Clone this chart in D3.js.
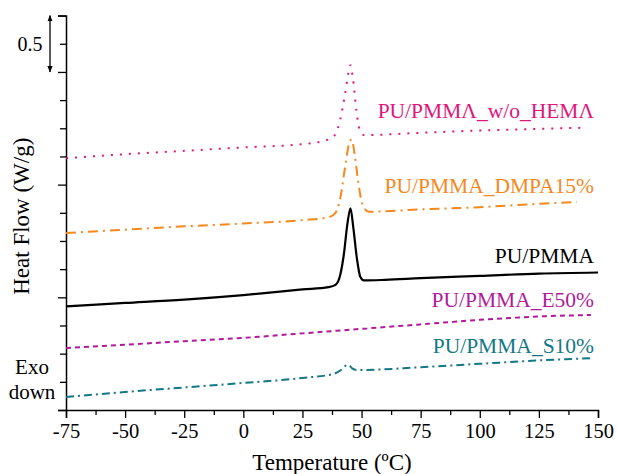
<!DOCTYPE html>
<html>
<head>
<meta charset="utf-8">
<script src="https://cdn.jsdelivr.net/npm/d3@7"></script>
<style>
  body { margin: 0; background: #fff; }
  text { font-family: "Liberation Serif", "Times New Roman", serif; }
</style>
</head>
<body>
<script>
const width = 617,
  height = 474;

// temperatures (ºC) and heat flow (W/g, shifted for display)
const tHema = [-75, -50, -25, 0, 25, 36, 39, 41, 43, 44.5, 45.3, 46.3, 47.8, 49.3, 51, 75, 100, 125, 145];
const vHema = [2.235, 2.27, 2.3, 2.33, 2.36, 2.4, 2.45, 2.58, 2.8, 3.0, 3.06, 2.95, 2.66, 2.48, 2.44, 2.46, 2.48, 2.495, 2.505];

const tDmpa = [-75, -50, -25, 0, 25, 36, 39, 41, 43, 44.8, 45.8, 47, 48.5, 50, 51.5, 53, 75, 100, 125, 141];
const vDmpa = [1.57, 1.6, 1.63, 1.655, 1.685, 1.71, 1.75, 1.88, 2.15, 2.37, 2.4, 2.28, 2.04, 1.85, 1.78, 1.76, 1.78, 1.8, 1.83, 1.846];

const tRef = [-75, -50, -25, 0, 25, 36, 39, 41, 42.5, 44, 45.3, 46.5, 48, 49.5, 51, 60, 75, 100, 125, 150];
const vRef = [0.92, 0.95, 0.98, 1.02, 1.07, 1.09, 1.11, 1.2, 1.38, 1.65, 1.79, 1.62, 1.35, 1.18, 1.15, 1.155, 1.17, 1.19, 1.21, 1.22];

const tE50 = [-75, -50, -25, 0, 25, 50, 75, 100, 125, 147];
const vE50 = [0.55, 0.58, 0.61, 0.64, 0.68, 0.72, 0.76, 0.8, 0.83, 0.843];

const tS10 = [-75, -50, -25, 0, 25, 38, 41, 43, 44.5, 46, 48, 50, 75, 100, 125, 148];
const vS10 = [0.115, 0.16, 0.2, 0.24, 0.284, 0.32, 0.35, 0.39, 0.4, 0.37, 0.355, 0.355, 0.38, 0.41, 0.44, 0.461];

const seriesNames = ['PU/PMMΛ_w/o_HEMΛ', 'PU/PMMA_DMPA15%', 'PU/PMMA', 'PU/PMMA_E50%', 'PU/PMMA_S10%'];
const xTicks = [-75, -50, -25, 0, 25, 50, 75, 100, 125, 150];

const series = [
  { name: seriesNames[0], t: tHema, v: vHema, color: '#e2157c', dash: '2,7', label: 2.65 },
  { name: seriesNames[1], t: tDmpa, v: vDmpa, color: '#f5891e', dash: '10,5,2,5', label: 1.99 },
  { name: seriesNames[2], t: tRef, v: vRef, color: '#000000', dash: null, label: 1.37 },
  { name: seriesNames[3], t: tE50, v: vE50, color: '#b01a9b', dash: '5,4', label: 0.975 },
  { name: seriesNames[4], t: tS10, v: vS10, color: '#147784', dash: '8,4,2,4', label: 0.57 }
];

const margin = { left: 66, right: 19, top: 15.6, bottom: 64 };

const x = d3.scaleLinear().domain([-75, 150]).range([margin.left, width - margin.right]);
const y = d3.scaleLinear().domain([0, 3.5]).range([height - margin.bottom, margin.top]);

const svg = d3
  .select('body')
  .append('svg')
  .attr('width', width)
  .attr('height', height);

// x axis
const xAxis = svg.append('g').attr('transform', `translate(0,${y(0)})`);
xAxis.call(d3.axisBottom(x).tickValues(xTicks).tickSize(8).tickPadding(5).tickFormat(d => String(d)));
xAxis.append('g').call(
  d3.axisBottom(x).tickValues(d3.range(-62.5, 150, 25)).tickSize(5).tickFormat('')
);
xAxis.selectAll('.domain').attr('stroke-width', 1.5);
xAxis.selectAll('line').attr('stroke-width', 1.3);
xAxis.selectAll('text').style('font-size', '20.5px').attr('fill', '#000');
xAxis.selectAll('g g .domain').remove();

// y axis, no labels
const yAxis = svg.append('g').attr('transform', `translate(${x(-75)},0)`);
yAxis.call(d3.axisLeft(y).tickValues([0, 1, 2, 3, 3.5]).tickSize(8).tickFormat(''));
yAxis.append('g').call(
  d3.axisLeft(y).tickValues(d3.range(0.25, 3.5, 0.25).filter(d => d % 1 !== 0)).tickSize(6).tickFormat('')
);
yAxis.selectAll('.domain').attr('stroke-width', 1.5);
yAxis.selectAll('line').attr('stroke-width', 1.3);
yAxis.selectAll('g g .domain').remove();

// scale bar 0.5 W/g
const defs = svg.append('defs');
defs
  .append('marker')
  .attr('id', 'arr')
  .attr('viewBox', '0 0 10 10')
  .attr('refX', 9)
  .attr('refY', 5)
  .attr('markerWidth', 5)
  .attr('markerHeight', 5)
  .attr('orient', 'auto-start-reverse')
  .append('path')
  .attr('d', 'M0,1L10,5L0,9z')
  .attr('fill', '#000');

svg
  .append('line')
  .attr('x1', 50)
  .attr('x2', 50)
  .attr('y1', y(3.5))
  .attr('y2', y(3))
  .attr('stroke', '#000')
  .attr('stroke-width', 1.3)
  .attr('marker-start', 'url(#arr)')
  .attr('marker-end', 'url(#arr)');

svg
  .append('text')
  .attr('x', 30)
  .attr('y', y(3.25) + 7)
  .attr('text-anchor', 'middle')
  .style('font-size', '20px')
  .text('0.5');

// curves
const line = d3
  .line()
  .x(d => x(d[0]))
  .y(d => y(d[1]))
  .curve(d3.curveMonotoneX);

svg
  .selectAll('.curve')
  .data(series)
  .enter()
  .append('path')
  .attr('class', 'curve')
  .attr('d', d => line(d.t.map((t, i) => [t, d.v[i]])))
  .attr('fill', 'none')
  .attr('stroke', d => d.color)
  .attr('stroke-width', d => (d.dash ? 2 : 2.2))
  .attr('stroke-dasharray', d => d.dash);

svg
  .selectAll('.lbl')
  .data(series)
  .enter()
  .append('text')
  .attr('class', 'lbl')
  .attr('x', 594)
  .attr('y', d => y(d.label) + 7)
  .attr('text-anchor', 'end')
  .attr('fill', d => d.color)
  .style('font-size', '21.5px')
  .text(d => d.name);

// axis titles
svg
  .append('text')
  .attr('x', x(37.5))
  .attr('y', 470)
  .attr('text-anchor', 'middle')
  .style('font-size', '23px')
  .text('Temperature (ºC)');

svg
  .append('text')
  .attr('transform', `translate(29,${y(1.72)}) rotate(-90)`)
  .attr('text-anchor', 'middle')
  .style('font-size', '23px')
  .text('Heat Flow (W/g)');

svg
  .append('text')
  .attr('x', 32)
  .attr('y', 374)
  .attr('text-anchor', 'middle')
  .style('font-size', '21px')
  .text('Exo');

svg
  .append('text')
  .attr('x', 32)
  .attr('y', 399)
  .attr('text-anchor', 'middle')
  .style('font-size', '21px')
  .text('down');
</script>
</body>
</html>
